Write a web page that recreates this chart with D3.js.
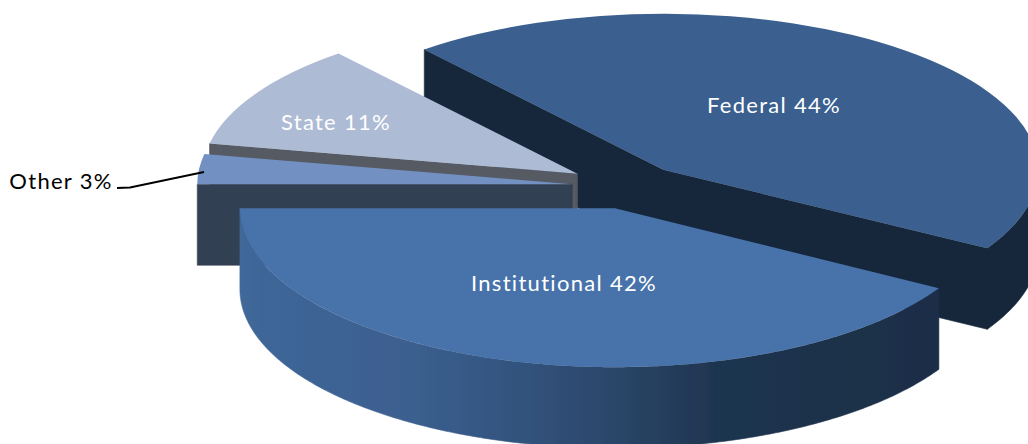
<!DOCTYPE html>
<html>
<head>
<meta charset="utf-8">
<script src="https://cdn.jsdelivr.net/npm/d3@7"></script>
<style>
  html, body { margin: 0; padding: 0; background: #fff; overflow: hidden; }
  text { font-family: Lato, "Open Sans", sans-serif; font-size: 22px; letter-spacing: 1.3px; }
</style>
</head>
<body>
<div id="chart"></div>
<script>
const categories = ["Federal", "Institutional", "Other", "State"];
// Slice shares, labels show them rounded
const shares = [44.4, 41.6, 3.1, 10.9];

//Plot dimensions
var plotWidth = 1028;
var plotHeight = 444;
var radius = 375;
var depth = 81;
var baseX = 629;
var baseY = 186.5;
var baseSquash = 0.416; // ellipse height / width
var startAngle = -39.6 * Math.PI / 180;

// Per slice look, same order as categories
var explode = [53, 54, 57, 60];
var squash = [0.416, 0.424, 0.416, 0.416]; // front slice looks a bit deeper
var topColors = ["#3b6090", "#4672aa", "#7291c2", "#aebbd5"];
var sideColors = ["#18283b", "#1b2f47", "#333f52", "#565a63"];
var labelPos = [[774, 113], [564, 291], [61, 189], [336, 130]];
var labelColors = ["#fff", "#fff", "#000", "#fff"];
var paintOrder = [0, 3, 2, 1]; // back to front

var svg = d3.select("#chart")
  .append("svg")
  .attr("width", plotWidth)
  .attr("height", plotHeight);

var defs = svg.append("defs");

// Shaded rim of the big front slice
var grad = defs.append("linearGradient")
  .attr("id", "rimGrad")
  .attr("gradientUnits", "userSpaceOnUse")
  .attr("x1", 240).attr("x2", 937).attr("y1", 0).attr("y2", 0);
[[0, "#3f6799"], [0.23, "#3c6090"], [0.37, "#345682"], [0.52, "#2c486c"], [0.68, "#1f3550"], [1, "#1a2e46"]]
  .forEach(function(s) {
    grad.append("stop").attr("offset", s[0]).attr("stop-color", s[1]);
  });

// The source picture is a bit soft
defs.append("filter").attr("id", "soft")
  .append("feGaussianBlur").attr("stdDeviation", 0.6);

var pie = d3.pie()
  .value(function(d) { return d; })
  .sort(null)
  .startAngle(startAngle)
  .endAngle(startAngle + 2 * Math.PI);

var arcs = pie(shares);
var arc = d3.arc().innerRadius(0).outerRadius(radius);
var line = d3.line();

function center(i) {
  var mid = (arcs[i].startAngle + arcs[i].endAngle) / 2;
  return [baseX + explode[i] * Math.sin(mid),
          baseY - explode[i] * baseSquash * Math.cos(mid)];
}

function rimPoint(c, k, a, drop) {
  return [c[0] + radius * Math.sin(a),
          c[1] - radius * k * Math.cos(a) + drop];
}

function wall(c, k, a) {
  return line([[c[0], c[1]], rimPoint(c, k, a, 0), rimPoint(c, k, a, depth), [c[0], c[1] + depth]]) + "Z";
}

function rim(c, k, a0, a1) {
  var from = Math.max(a0, Math.PI / 2);
  var to = Math.min(a1, 3 * Math.PI / 2);
  if (from >= to) return null;
  var angles = d3.range(from, to, 0.01).concat([to]);
  var top = angles.map(function(a) { return rimPoint(c, k, a, 0); });
  var bottom = angles.slice().reverse().map(function(a) { return rimPoint(c, k, a, depth); });
  return line(top.concat(bottom)) + "Z";
}

var slices = svg.selectAll("g.slice")
  .data(paintOrder)
  .enter()
  .append("g")
  .attr("class", "slice")
  .attr("filter", "url(#soft)");

slices.each(function(i) {
  var g = d3.select(this);
  var c = center(i);
  var k = squash[i];
  var d = arcs[i];
  // Only the cut faces turned towards the viewer show
  var sides = "";
  if (Math.sin(d.startAngle) < 0) sides += wall(c, k, d.startAngle);
  if (Math.sin(d.endAngle) > 0) sides += wall(c, k, d.endAngle);
  var r = rim(c, k, d.startAngle, d.endAngle);
  var shaded = categories[i] == "Institutional";
  if (r && !shaded) sides += r; // one path, so no seams show between the faces
  if (sides) {
    g.append("path").attr("d", sides)
      .attr("fill", sideColors[i])
      .attr("stroke", sideColors[i])
      .attr("stroke-width", 0.6);
  }
  if (r && shaded) {
    g.append("path").attr("d", r)
      .attr("fill", "url(#rimGrad)")
      .attr("stroke", "url(#rimGrad)")
      .attr("stroke-width", 0.6);
  }
  g.append("path")
    .attr("d", arc(d))
    .attr("fill", topColors[i])
    .attr("transform", "translate(" + c[0] + "," + c[1] + ") scale(1," + k + ")");
});

// Leader line for the small slice
svg.append("path")
  .attr("d", line([[117, 188], [130, 187.5], [204, 172]]))
  .attr("fill", "none")
  .attr("stroke", "#000")
  .attr("stroke-width", 2);

var pct = d3.format(".0f");

svg.selectAll("text.label")
  .data(categories)
  .enter()
  .append("text")
  .attr("class", "label")
  .attr("x", function(d, i) { return labelPos[i][0]; })
  .attr("y", function(d, i) { return labelPos[i][1]; })
  .attr("text-anchor", "middle")
  .attr("fill", function(d, i) { return labelColors[i]; })
  .text(function(d, i) { return d + " " + pct(shares[i]) + "%"; });
</script>
</body>
</html>
